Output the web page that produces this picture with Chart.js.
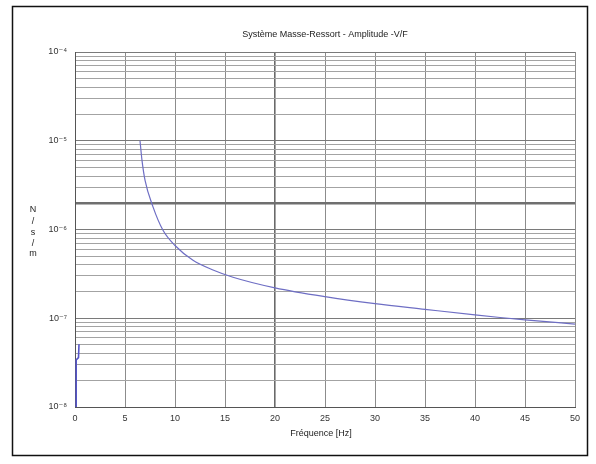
<!DOCTYPE html>
<html>
<head>
<meta charset="utf-8">
<script src="https://cdn.jsdelivr.net/npm/chart.js@4/dist/chart.umd.min.js"></script>
<style>
  html, body { margin: 0; padding: 0; background: #fff; }
  #wrap { width: 596px; height: 464px; position: relative; }
</style>
</head>
<body>
<div id="wrap"><canvas id="myChart" width="596" height="464"></canvas></div>
<script>
// frequency response, high-frequency branch (Hz / amplitude)
let freqHigh = [6.5, 6.7, 7.0, 7.8, 8.8, 10, 11.8, 13.8, 15.8, 20, 25, 30, 35, 40, 42.5, 45, 50];
let ampHigh = [1.0e-5, 6.0e-6, 3.6e-6, 1.8e-6, 9.8e-7, 6.6e-7, 4.5e-7, 3.5e-7, 2.9e-7, 2.2e-7, 1.75e-7, 1.46e-7, 1.26e-7, 1.09e-7, 1.02e-7, 9.6e-8, 8.6e-8];

// short branch near 0 Hz
let freqLow = [0.1, 0.12, 0.35, 0.4];
let ampLow = [1e-8, 3.4e-8, 3.6e-8, 5.1e-8];

let xTicks = [0, 5, 10, 15, 20, 25, 30, 35, 40, 45, 50];
let yDecades = [-8, -7, -6, -5, -4];

let title = 'Système Masse-Ressort - Amplitude -V/F';
let xTitle = 'Fréquence [Hz]';
let yTitle = ['N', '/', 's', '/', 'm'];

let font = '"Liberation Sans", Arial, "DejaVu Sans", sans-serif';

function toPoints(xs, ys) {
    let pts = [];
    for (let i = 0; i < xs.length; i++) {
        pts.push({x: xs[i], y: ys[i]});
    }
    return pts;
}

// 10^n written with unicode superscripts
function powLabel(n) {
    let sup = {'-': '⁻', '0': '⁰', '1': '¹', '2': '²', '3': '³', '4': '⁴', '5': '⁵', '6': '⁶', '7': '⁷', '8': '⁸', '9': '⁹'};
    return '10' + String(n).split('').map(c => sup[c]).join('');
}

// all log grid values: 1..9 x 10^n
let yGrid = [];
for (let i = 0; i < yDecades.length - 1; i++) {
    for (let m = 1; m < 10; m++) {
        yGrid.push(m * Math.pow(10, yDecades[i]));
    }
}
yGrid.push(Math.pow(10, yDecades[yDecades.length - 1]));

function isDecade(v) {
    let e = Math.log10(v);
    return Math.abs(e - Math.round(e)) < 1e-6;
}

// outer frame, title and stacked y label
let decor = {
    id: 'decor',
    beforeDraw(chart) {
        let ctx = chart.ctx;
        ctx.save();
        ctx.fillStyle = '#fff';
        ctx.fillRect(0, 0, chart.width, chart.height);
        ctx.restore();
    },
    afterDraw(chart) {
        let ctx = chart.ctx;
        let area = chart.chartArea;
        ctx.save();
        ctx.strokeStyle = '#111';
        ctx.lineWidth = 1.5;
        ctx.strokeRect(12.5, 6.5, 575, 449);

        ctx.fillStyle = '#222';
        ctx.font = '9px ' + font;
        ctx.textAlign = 'center';
        ctx.textBaseline = 'middle';
        ctx.fillText(title, (area.left + area.right) / 2, 35);
        ctx.fillText(xTitle, (area.left + area.right) / 2 - 4, 434);

        let ys = [210, 222, 233, 244, 254];
        for (let i = 0; i < yTitle.length; i++) {
            ctx.fillText(yTitle[i], 33, ys[i]);
        }
        ctx.restore();
    }
};

let context = document.getElementById('myChart');
let myChart = new Chart(context, {
    type: 'scatter',
    data: {
        datasets: [{
            data: toPoints(freqHigh, ampHigh),
            showLine: true,
            borderColor: '#6e6ec4',
            borderWidth: 1.2,
            pointRadius: 0,
            cubicInterpolationMode: 'monotone'
        }, {
            data: toPoints(freqLow, ampLow),
            showLine: true,
            borderColor: '#5555c8',
            borderWidth: 1.6,
            pointRadius: 0
        }]
    },
    plugins: [decor],
    options: {
        responsive: false,
        animation: false,
        events: [],
        layout: {padding: {left: 0, right: 21, top: 52, bottom: 0}},
        plugins: {
            legend: {display: false},
            tooltip: {enabled: false}
        },
        scales: {
            x: {
                type: 'linear',
                min: 0,
                max: 50,
                afterBuildTicks: (scale) => { scale.ticks = xTicks.map(v => ({value: v})); },
                afterFit: (scale) => { scale.height = 57; },
                ticks: {
                    autoSkip: false,
                    maxRotation: 0,
                    padding: 6,
                    color: '#333',
                    font: {family: font, size: 9}
                },
                grid: {
                    drawTicks: false,
                    color: (c) => (c.tick && c.tick.value === 20) ? '#6a6a6a' : '#8c8c8c',
                    lineWidth: (c) => (c.tick && c.tick.value === 20) ? 1.6 : 1
                },
                border: {display: true, color: '#555', width: 1}
            },
            y: {
                type: 'logarithmic',
                min: 1e-8,
                max: 1e-4,
                afterBuildTicks: (scale) => { scale.ticks = yGrid.map(v => ({value: v})); },
                afterFit: (scale) => { scale.width = 75; },
                ticks: {
                    autoSkip: false,
                    padding: 8,
                    color: '#333',
                    font: {family: font, size: 9},
                    callback: (v) => isDecade(v) ? powLabel(Math.round(Math.log10(v))) : ''
                },
                grid: {
                    drawTicks: false,
                    color: (c) => {
                        if (!c.tick) return '#999';
                        let v = c.tick.value;
                        if (Math.abs(v - 2e-6) < 1e-12) return '#6f6f6f';
                        return isDecade(v) ? '#7a7a7a' : '#a3a3a3';
                    },
                    lineWidth: (c) => (c.tick && Math.abs(c.tick.value - 2e-6) < 1e-12) ? 2.5 : 1
                },
                border: {display: true, color: '#555', width: 1}
            }
        }
    }
});
</script>
</body>
</html>
